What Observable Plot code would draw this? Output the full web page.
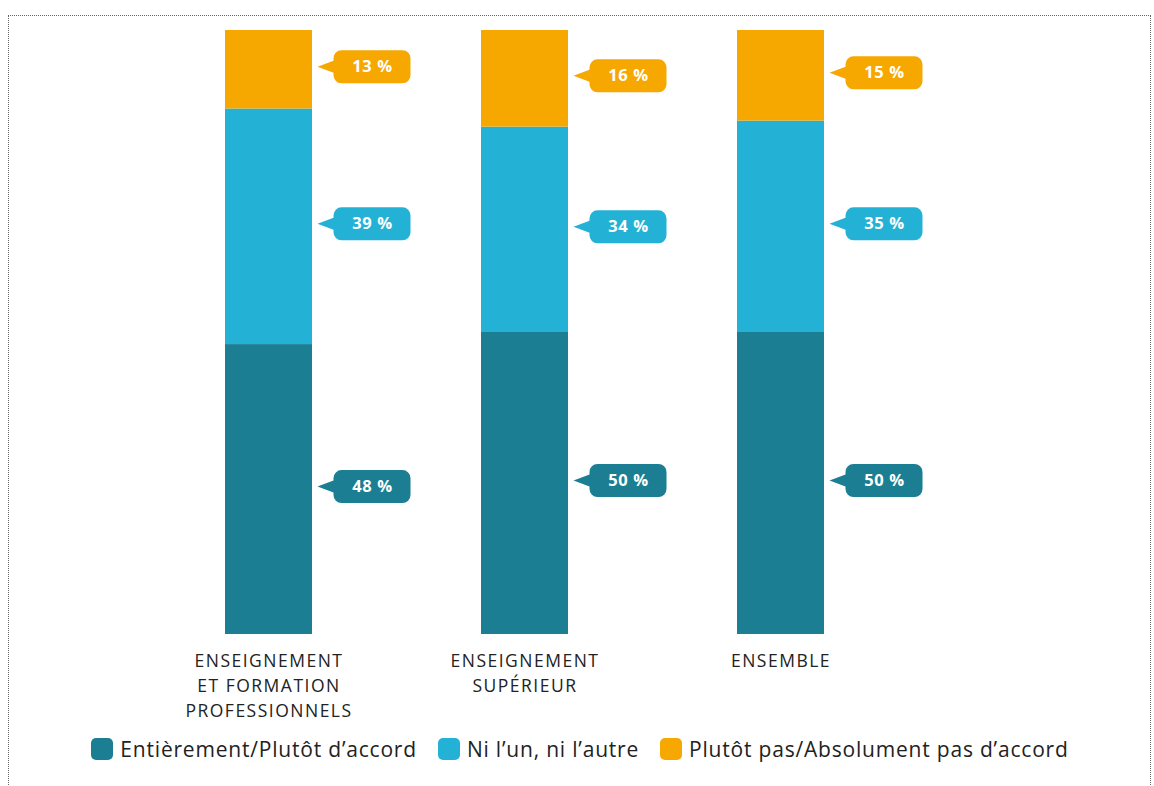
<!DOCTYPE html>
<html>
<head>
<meta charset="utf-8">
<script src="https://cdn.jsdelivr.net/npm/d3@7"></script>
<script src="https://cdn.jsdelivr.net/npm/@observablehq/plot@0.6"></script>
<style>
  html, body { margin: 0; padding: 0; background: #fff; }
  body { width: 1154px; height: 786px; position: relative; overflow: hidden; font-family: "Open Sans", sans-serif; }
  #frame { position: absolute; left: 8px; top: 15px; width: 1143px; height: 800px; border: 1px dotted #666; box-sizing: border-box; }
  #chart { position: absolute; left: 0; top: 0; }
  #legend { position: absolute; left: 0; top: 735px; width: 1160px; display: flex; justify-content: center; align-items: center; gap: 21px; font-size: 21px; letter-spacing: 0.8px; color: #222; }
  .item { display: flex; align-items: center; gap: 7px; }
  .sw { width: 22px; height: 22px; border-radius: 5px; display: inline-block; }
  #chart svg g[aria-label="x-axis tick label"] text { letter-spacing: 1.5px; }
  #chart svg g[aria-label="text"] text { letter-spacing: 0.6px; }
</style>
</head>
<body>
<div id="frame"></div>
<div id="chart"></div>
<div id="legend"></div>
<script>
const categories = ["ENSEIGNEMENT\nET FORMATION\nPROFESSIONNELS", "ENSEIGNEMENT\nSUPÉRIEUR", "ENSEMBLE"];
const series = ["Entièrement/Plutôt d’accord", "Ni l’un, ni l’autre", "Plutôt pas/Absolument pas d’accord"];
const colors = ["#1b7e93", "#23b2d5", "#f6a800"];
const accord = [48, 50, 50];
const neutre = [39, 34, 35];
const desaccord = [13, 16, 15];

const seriesValues = [accord, neutre, desaccord];
const data = [];
categories.forEach((c, i) => {
  series.forEach((s, j) => data.push({cat: c, series: s, value: seriesValues[j][i]}));
});

const bubble = {
  draw(ctx) {
    const w = 77, h = 33, r = 8, tip = 16, b = 6;
    const x0 = -w / 2, x1 = w / 2, y0 = -h / 2, y1 = h / 2;
    ctx.moveTo(x0 + r, y0);
    ctx.lineTo(x1 - r, y0); ctx.arcTo(x1, y0, x1, y0 + r, r);
    ctx.lineTo(x1, y1 - r); ctx.arcTo(x1, y1, x1 - r, y1, r);
    ctx.lineTo(x0 + r, y1); ctx.arcTo(x0, y1, x0, y1 - r, r);
    ctx.lineTo(x0, b); ctx.lineTo(x0 - tip, 0); ctx.lineTo(x0, -b);
    ctx.lineTo(x0, y0 + r); ctx.arcTo(x0, y0, x0 + r, y0, r);
    ctx.closePath();
  }
};

const stackOpts = {x: "cat", y: "value", z: "series", order: series};

const plot = Plot.plot({
  width: 1154,
  height: 725,
  marginLeft: 54.5,
  marginRight: 160.5,
  marginTop: 30,
  marginBottom: 91,
  style: {fontFamily: "'Open Sans', sans-serif", background: "transparent"},
  x: {domain: categories, padding: 0.6608, label: null},
  y: {domain: [0, 100], axis: null},
  color: {domain: series, range: colors},
  marks: [
    Plot.barY(data, Plot.stackY({...stackOpts, fill: "series"})),
    Plot.dot(data, Plot.stackY({...stackOpts, fill: "series", symbol: bubble, r: 10, dx: 103, dy: -3})),
    Plot.text(data, Plot.stackY({...stackOpts, text: d => d.value + " %", dx: 103.5, dy: -3, fill: "white", fontWeight: "bold", fontSize: 16.5})),
    Plot.axisX({tickSize: 0, tickPadding: 15, fontSize: 17.5, lineHeight: 1.42, fill: "#222", label: null})
  ]
});
document.getElementById("chart").appendChild(plot);

const legend = document.getElementById("legend");
series.forEach((s, i) => {
  const it = document.createElement("div");
  it.className = "item";
  const sw = document.createElement("span");
  sw.className = "sw";
  sw.style.background = colors[i];
  const tx = document.createElement("span");
  tx.textContent = s;
  it.appendChild(sw); it.appendChild(tx);
  legend.appendChild(it);
});
</script>
</body>
</html>
